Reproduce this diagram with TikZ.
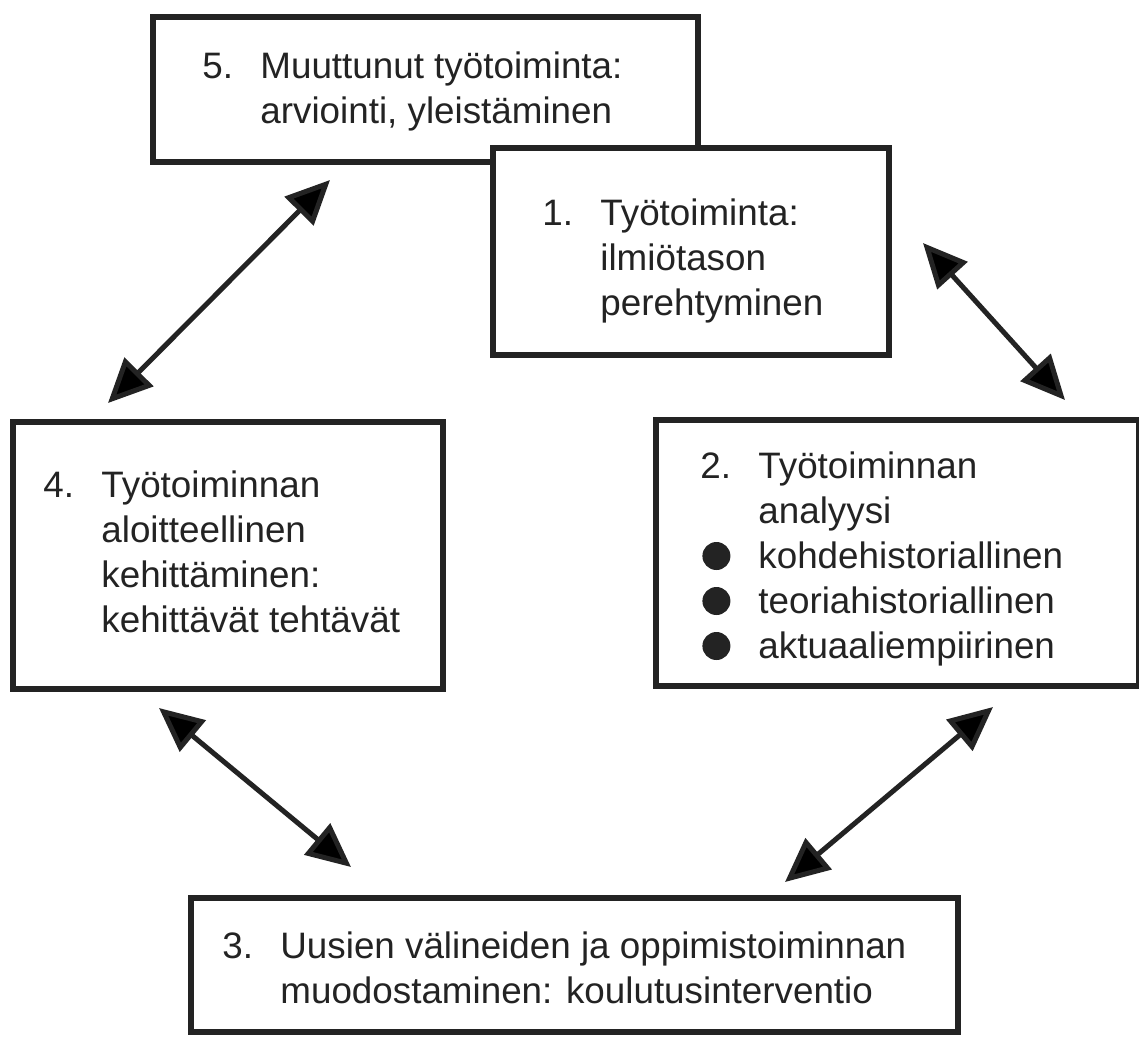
\documentclass[tikz,border=0pt]{standalone}
\usepackage{fontspec}
\setmainfont{Liberation Sans}
\usetikzlibrary{arrows.meta,fit}

\definecolor{ink}{RGB}{35,35,35}

% filled round bullet for the list in box 2
\newcommand\blob{\tikz[baseline=-6pt]\fill[ink] (0,0) circle[radius=7pt];}
% numbered first line: number in a fixed-width column
\newcommand\numcol[1]{\makebox[29pt][l]{#1}}

\tikzset{
  box/.style={draw=ink, line width=2.8pt, inner sep=0pt, rectangle},
  label/.style={anchor=base west, inner sep=0pt, text=ink,
    font=\fontsize{18.4pt}{22.5pt}\selectfont},
  link/.style={draw=ink, line width=2.5pt,
    {Triangle[length=22pt,width=20pt]}-{Triangle[length=22pt,width=20pt]}},
}

\begin{document}
\begin{tikzpicture}[x=0.5pt, y=-0.5pt]
  \fill[white] (0,0) rectangle (1139,1040);
  \useasboundingbox (0,0) rectangle (1139,1040);

  % box 5 (drawn first, box 1 overlaps its corner)
  \node[box, fit={(153,17) (698,162)}] (b5) {};
  \node[label] (t5) at (202,78) {\begin{tabular}[t]{@{}l@{}l@{}}
    \numcol{5.} & Muuttunut työtoiminta:\\
                & arviointi, yleistäminen
  \end{tabular}};

  % box 1
  \node[box, fill=white, fit={(493,148) (889,355)}] (b1) {};
  \node[label] (t1) at (542,225) {\begin{tabular}[t]{@{}l@{}l@{}}
    \numcol{1.} & Työtoiminta:\\
                & ilmiötason\\
                & perehtyminen
  \end{tabular}};

  % box 4
  \node[box, fit={(13,422) (443,689)}] (b4) {};
  \node[label] (t4) at (43,497) {\begin{tabular}[t]{@{}l@{}l@{}}
    \numcol{4.} & Työtoiminnan\\
                & aloitteellinen\\
                & kehittäminen:\\
                & kehittävät tehtävät
  \end{tabular}};

  % box 2
  \node[box, fit={(656,420) (1139,686)}] (b2) {};
  \node[label] (t2) at (700,478) {\begin{tabular}[t]{@{}l@{}l@{}}
    \numcol{2.} & Työtoiminnan\\
                & analyysi\\
    \numcol{\hspace{1pt}\blob} & kohdehistoriallinen\\
    \numcol{\hspace{1pt}\blob} & teoriahistoriallinen\\
    \numcol{\hspace{1pt}\blob} & aktuaaliempiirinen
  \end{tabular}};

  % box 3
  \node[box, fit={(191,898) (958,1032)}] (b3) {};
  \node[label] (t3) at (222,958) {\begin{tabular}[t]{@{}l@{}l@{}}
    \numcol{3.} & Uusien välineiden ja oppimistoiminnan\\
                & muodostaminen: koulutusinterventio
  \end{tabular}};

  % free ends of the double-headed connectors
  \coordinate (p5a) at (330,180);
  \coordinate (p4a) at (108,403);
  \coordinate (p1a) at (923,243);
  \coordinate (p2a) at (1065,400);
  \coordinate (p4b) at (159,708);
  \coordinate (p3a) at (351,867);
  \coordinate (p2b) at (993,707);
  \coordinate (p3b) at (785,882);

  \draw[link] (p5a) -- (p4a);
  \draw[link] (p1a) -- (p2a);
  \draw[link] (p4b) -- (p3a);
  \draw[link] (p2b) -- (p3b);
\end{tikzpicture}
\end{document}
